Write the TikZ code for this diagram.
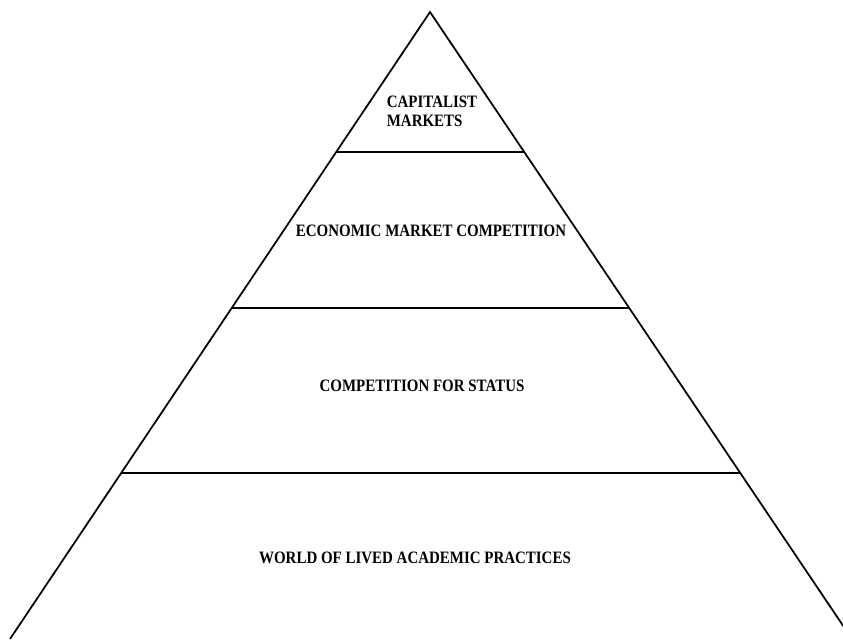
\documentclass[tikz,border=0pt]{standalone}
\usepackage{fontspec}
\setmainfont{Liberation Serif}[FakeStretch=0.86]
\usetikzlibrary{calc}
\begin{document}
\begin{tikzpicture}[x=0.2mm, y=-0.2mm, line width=1pt]
\tikzset{tier/.style={inner sep=0pt, font=\fontsize{9.9}{10.8}\selectfont\bfseries}}
\useasboundingbox (0,0) rectangle (843,639);
\coordinate (apex) at (430,12);
\coordinate (lfoot) at (10,639);
\coordinate (rfoot) at (852,639);
\draw (lfoot) -- (apex) -- (rfoot);
\foreach \t [count=\i] in {0.2233, 0.4721, 0.7352} {
  \coordinate (l\i) at ($(apex)!\t!(lfoot)$);
  \coordinate (r\i) at ($(apex)!\t!(rfoot)$);
  \draw (l\i) -- (r\i);
}
\node[tier, align=left] (cap) at (432,111) {CAPITALIST\\MARKETS};
\node[tier] (econ) at (431,231) {ECONOMIC MARKET COMPETITION};
\node[tier] (status) at (422,386) {COMPETITION FOR STATUS};
\node[tier] (world) at (415,558) {WORLD OF LIVED ACADEMIC PRACTICES};
\end{tikzpicture}
\end{document}
